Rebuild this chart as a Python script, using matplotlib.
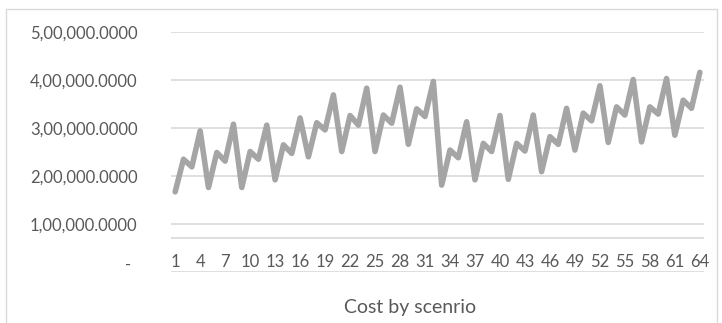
import matplotlib
matplotlib.use('Agg')
import matplotlib.pyplot as plt
import matplotlib.transforms as mtransforms
from matplotlib.patches import Rectangle

# cost per scenario
scenarios = list(range(1, 65))
cost = [
    167000, 235000, 219000, 294000, 176000, 249000, 231000, 308000,
    176000, 251000, 235000, 306000, 192000, 265000, 247000, 321000,
    240000, 311000, 296000, 369000, 251000, 326000, 306000, 383000,
    251000, 327000, 310000, 385000, 266000, 340000, 324000, 397000,
    181000, 254000, 238000, 313000, 192000, 268000, 251000, 326000,
    193000, 268000, 252000, 327000, 209000, 282000, 266000, 341000,
    254000, 331000, 315000, 388000, 270000, 344000, 327000, 401000,
    271000, 344000, 329000, 403000, 285000, 358000, 341000, 416000,
]
yticks = [0, 100000, 200000, 300000, 400000, 500000]
xticks = scenarios[::3]
title = 'Cost by scenrio'

def indian(v):
    if v == 0:
        return '-'
    s = str(int(v))
    last3, rest = s[-3:], s[:-3]
    groups = []
    while len(rest) > 2:
        groups.insert(0, rest[-2:])
        rest = rest[:-2]
    if rest:
        groups.insert(0, rest)
    return ','.join(groups + [last3]) + '.0000'

plt.rcParams['font.family'] = ['Lato', 'DejaVu Sans']
txt = '#595959'
grid = '#d9d9d9'

fig = plt.figure(figsize=(7.22, 3.23), dpi=100)
fig.patches.append(Rectangle((6 / 722, -0.1), 711 / 722, 1.1 - 9 / 323, transform=fig.transFigure,
                             fill=False, edgecolor='#d9d9d9', linewidth=1))
ax = fig.add_axes([171 / 722, 51 / 323, 533 / 722, 240 / 323])

ax.plot(scenarios, cost, color='#a5a5a5', linewidth=4, solid_joinstyle='round',
        solid_capstyle='round', zorder=3)

ax.set_xlim(0.5, 64.5)
ax.set_ylim(0, 500000)
ax.set_yticks(yticks)
ax.set_yticklabels([indian(v) for v in yticks])
ax.set_xticks(xticks)
ax.set_xticklabels([str(x) for x in xticks])
for v in yticks:
    ax.axhline(v, color=grid, linewidth=1.2, zorder=1)
ax.axhline(70800, color=grid, linewidth=1.2, zorder=1)

for s in ax.spines.values():
    s.set_visible(False)
ax.tick_params(axis='both', length=0, colors=txt, labelsize=12)
ax.tick_params(axis='y', pad=24)
ax.tick_params(axis='x', pad=-13)

# the "-" zero label sits a bit higher and to the left in the reference
zl = ax.get_yticklabels()[0]
zl.set_transform(zl.get_transform() + mtransforms.ScaledTranslation(-7 / 100, 9 / 100, fig.dpi_scale_trans))

fig.text(410 / 722, 1 - 307 / 323, title, ha='center', va='center', color=txt, fontsize=14)

fig.savefig('out.png', dpi=100)
